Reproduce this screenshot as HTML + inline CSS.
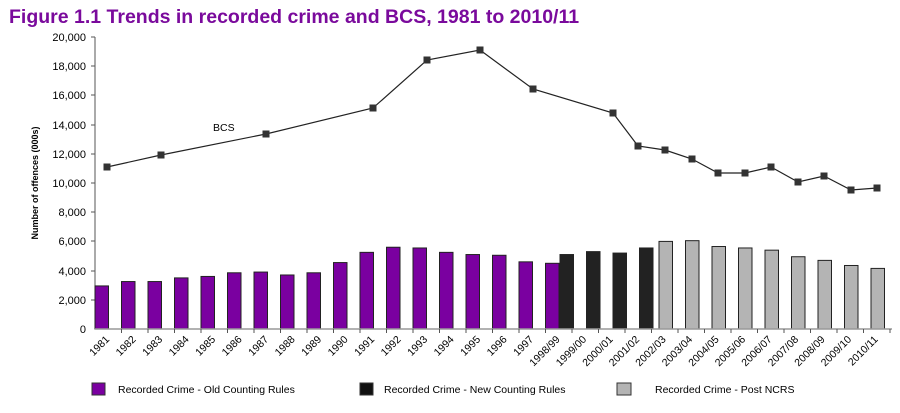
<!DOCTYPE html>
<html><head><meta charset="utf-8"><style>
body{margin:0;background:#fff;width:900px;height:408px;overflow:hidden;font-family:"Liberation Sans",sans-serif}
</style></head><body>
<svg width="900" height="408" xmlns="http://www.w3.org/2000/svg" font-family="Liberation Sans, sans-serif">
<text x="9" y="23" font-size="19.5" font-weight="bold" fill="#7a0a9c">Figure 1.1 Trends in recorded crime and BCS, 1981 to 2010/11</text>
<g font-size="11" text-anchor="end" fill="#000">
<text x="86" y="41">20,000</text><text x="86" y="70">18,000</text><text x="86" y="99">16,000</text><text x="86" y="129">14,000</text><text x="86" y="158">12,000</text><text x="86" y="187">10,000</text><text x="86" y="216">8,000</text><text x="86" y="245">6,000</text><text x="86" y="275">4,000</text><text x="86" y="304">2,000</text><text x="86" y="333">0</text>
</g>
<text transform="translate(38,183) rotate(-90)" font-size="9" font-weight="bold" text-anchor="middle">Number of offences (000s)</text>
<line x1="95" y1="37" x2="95" y2="329" stroke="#555"/>
<g stroke="#555"><line x1="91" y1="37" x2="95" y2="37"/><line x1="91" y1="66" x2="95" y2="66"/><line x1="91" y1="95" x2="95" y2="95"/><line x1="91" y1="125" x2="95" y2="125"/><line x1="91" y1="154" x2="95" y2="154"/><line x1="91" y1="183" x2="95" y2="183"/><line x1="91" y1="212" x2="95" y2="212"/><line x1="91" y1="241" x2="95" y2="241"/><line x1="91" y1="271" x2="95" y2="271"/><line x1="91" y1="300" x2="95" y2="300"/></g>
<g id="bars" stroke="#222" stroke-width="1"></g>
<line x1="95" y1="329" x2="892" y2="329" stroke="#999" stroke-width="1.5"/>
<g id="ticks" stroke="#555"></g>
<g id="xl" font-size="10.5" fill="#000" text-anchor="end"></g>
<polyline id="bcs" fill="none" stroke="#222" stroke-width="1.2"/>
<g id="mk" fill="#333"></g>
<text x="213" y="131" font-size="10.5">BCS</text>
<rect x="92" y="383" width="13" height="12" fill="#7a00a0" stroke="#333"/>
<text x="118" y="393" font-size="10.5">Recorded Crime - Old Counting Rules</text>
<rect x="360" y="383" width="13" height="12" fill="#111" stroke="#333"/>
<text x="384" y="393" font-size="10.5">Recorded Crime - New Counting Rules</text>
<rect x="617" y="383" width="14" height="12" fill="#b4b4b4" stroke="#333"/>
<text x="655" y="393" font-size="10.5">Recorded Crime - Post NCRS</text>
</svg>
<script>
const ns="http://www.w3.org/2000/svg";
function el(t,a,p){const e=document.createElementNS(ns,t);for(const k in a)e.setAttribute(k,a[k]);document.getElementById(p).appendChild(e);return e;}
const Y=v=>329-v*0.0146;
const pur=[2950,3250,3250,3500,3600,3850,3900,3700,3850,4550,5250,5600,5550,5250,5100,5050,4600,4500];
const blk=[5100,5300,5200,5550];
const gry=[6000,6050,5650,5550,5400,4950,4700,4350,4150];
pur.forEach((v,i)=>el('rect',{x:95+26.5*i,y:Y(v),width:13.5,height:329-Y(v),fill:'#7a00a0'},'bars'));
blk.forEach((v,i)=>el('rect',{x:560+26.5*i,y:Y(v),width:13.5,height:329-Y(v),fill:'#222'},'bars'));
gry.forEach((v,i)=>el('rect',{x:659+26.5*i,y:Y(v),width:13.5,height:329-Y(v),fill:'#b4b4b4'},'bars'));
const labels=["1981","1982","1983","1984","1985","1986","1987","1988","1989","1990","1991","1992","1993","1994","1995","1996","1997","1998/99","1999/00","2000/01","2001/02","2002/03","2003/04","2004/05","2005/06","2006/07","2007/08","2008/09","2009/10","2010/11"];
labels.forEach((l,i)=>{const cx=95+26.5*i+13;
el('line',{x1:95+26.5*(i+1),y1:329,x2:95+26.5*(i+1),y2:333},'ticks');
const t=el('text',{transform:`translate(${cx+2},${340}) rotate(-45)`},'xl');t.textContent=l;});
const pts=[[107,167],[161,155],[266,134],[373,108],[427,60],[480,50],[533,89],[613,113],[638,146],[665,150],[692,159],[718,173],[745,173],[771,167],[798,182],[824,176],[851,190],[877,188]];
document.getElementById('bcs').setAttribute('points',pts.map(p=>p.join(',')).join(' '));
pts.forEach(p=>el('rect',{x:p[0]-3.5,y:p[1]-3.5,width:7,height:7},'mk'));
</script>
</body></html>
